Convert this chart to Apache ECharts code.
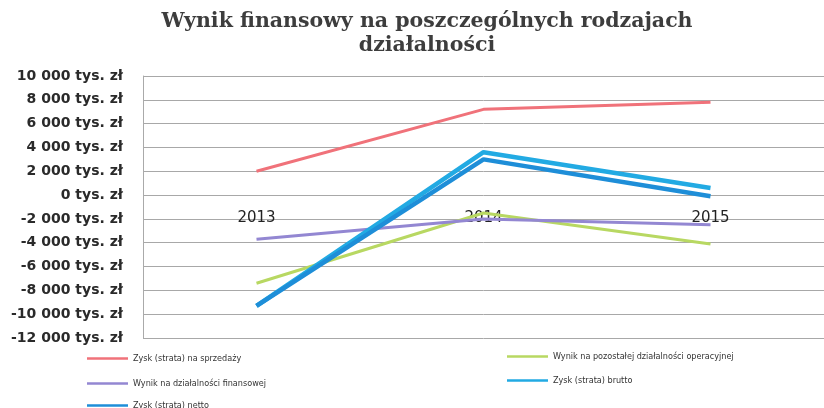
<!DOCTYPE html>
<html><head><meta charset="utf-8">
<script src="https://cdn.jsdelivr.net/npm/echarts@6/dist/echarts.min.js"></script>
<style>html,body{margin:0;padding:0;background:#fff}#c{width:824px;height:408px}</style>
</head><body><div id="c"></div>
<script>
const categories = ['2013', '2014', '2015'];
const sprzedaz = [2000, 7200, 7800];
const operacyjna = [-7400, -1500, -4100];
const finansowa = [-3700, -2000, -2500];
const brutto = [-9300, 3600, 600];
const netto = [-9300, 3000, -100];
const names = ['Zysk (strata) na sprzedaży', 'Wynik na pozostałej działalności operacyjnej', 'Wynik na działalności finansowej', 'Zysk (strata) brutto', 'Zysk (strata) netto'];
const colors = ['#f0727a', '#b8d862', '#9387d2', '#22aae3', '#1e8ed8'];
const widths = [3, 3, 3, 4.5, 4.5];
const seriesData = [sprzedaz, operacyjna, finansowa, brutto, netto];

function fmt(v) {
  const s = Math.abs(v).toString().replace(/\B(?=(\d{3})+(?!\d))/g, ' ');
  return (v < 0 ? '-' : '') + s + ' tys. zł';
}
const legendPos = [[82, 349], [502, 347], [82, 374], [502, 371], [82, 396]];
const chart = echarts.init(document.getElementById('c'));
chart.setOption({
  animation: false,
  backgroundColor: '#fff',
  title: {
    text: 'Wynik finansowy na poszczególnych rodzajach\ndziałalności',
    left: 422, top: 5, textAlign: 'center',
    textStyle: { fontFamily: 'DejaVu Serif', fontWeight: 'bold', fontSize: 20.5, color: '#3d3d3d', lineHeight: 24 }
  },
  legend: names.map((n, i) => ({
    data: [n], left: legendPos[i][0], top: legendPos[i][1],
    icon: 'rect', itemWidth: 41, itemHeight: 2.5, itemGap: 5,
    textStyle: { fontFamily: 'DejaVu Sans Condensed', fontSize: 9, color: '#333' }
  })),
  grid: { left: 143, top: 76, width: 690, bottom: 70 },
  xAxis: {
    type: 'category', data: categories, boundaryGap: true,
    axisLine: { show: false, onZero: true },
    axisTick: { show: false },
    axisLabel: { margin: 16, fontFamily: 'DejaVu Sans', fontSize: 15, color: '#222' },
    splitLine: { show: false }
  },
  yAxis: {
    type: 'value', min: -12000, max: 10000, interval: 2000,
    axisLine: { show: true, lineStyle: { color: '#aaa', width: 1 } },
    axisTick: { show: false },
    axisLabel: { formatter: fmt, margin: 20, fontFamily: 'DejaVu Sans', fontWeight: 'bold', fontSize: 14, color: '#2a2a2a' },
    splitLine: { lineStyle: { color: '#a8a8a8', width: 1 } }
  },
  series: names.map((n, i) => ({
    name: n, type: 'line', data: seriesData[i], symbol: 'none',
    color: colors[i], lineStyle: { width: widths[i], color: colors[i] }
  }))
});
// place the category labels at the zero line, as in the reference
const zeroY = chart.convertToPixel({ yAxisIndex: 0 }, 0);
const bottomY = chart.convertToPixel({ yAxisIndex: 0 }, -12000);
chart.setOption({ xAxis: { offset: -(bottomY - zeroY) } });
</script></body></html>
